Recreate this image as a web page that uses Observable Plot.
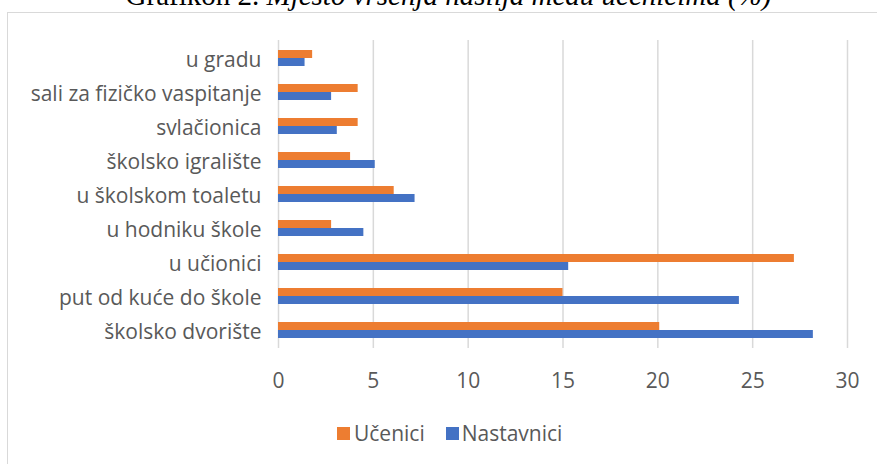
<!DOCTYPE html>
<html><head><meta charset="utf-8">
<script src="https://cdn.jsdelivr.net/npm/d3@7"></script>
<script src="https://cdn.jsdelivr.net/npm/@observablehq/plot@0.6"></script>
<style>
body{margin:0;width:877px;height:464px;overflow:hidden;background:#fff;position:relative;}
#title{position:absolute;top:-19px;left:10px;width:877px;text-align:center;font-size:29px;line-height:1;font-family:"Liberation Serif",serif;color:#000;white-space:nowrap;}
#box{position:absolute;left:7px;top:12px;width:900px;height:500px;border:1px solid #d9d9d9;box-sizing:border-box;}
#chart{position:absolute;left:0;top:0;}
#legend{position:absolute;top:419px;left:337px;display:flex;align-items:center;font-size:21px;font-family:"Open Sans",sans-serif;color:#595959;white-space:nowrap;}
.sw{display:inline-block;width:13px;height:13px;margin-right:4px;}
</style></head><body>
<div id="title">Grafikon 2. <i>Mjesto vršenja nasilja među učenicima (%)</i></div>
<div id="box"></div>
<div id="chart"></div>
<div id="legend"><span class="sw" style="background:#ed7d31"></span><span>Učenici</span><span class="sw" style="background:#4472c4;margin-left:21px;margin-right:3px"></span><span>Nastavnici</span></div>
<script>
const categories = ["u gradu","sali za fizičko vaspitanje","svlačionica","školsko igralište","u školskom toaletu","u hodniku škole","u učionici","put od kuće do škole","školsko dvorište"];
const ucenici = [1.8, 4.2, 4.2, 3.8, 6.1, 2.8, 27.2, 15.0, 20.1];
const nastavnici = [1.4, 2.8, 3.1, 5.1, 7.2, 4.5, 15.3, 24.3, 28.2];
const xTicks = [0,5,10,15,20,25,30];
const rowsU = categories.map((c,i)=>({cat:c, value:ucenici[i]}));
const rowsN = categories.map((c,i)=>({cat:c, value:nastavnici[i]}));
const chart = Plot.plot({
  width: 877, height: 400,
  marginLeft: 278, marginRight: 30, marginTop: 40, marginBottom: 52,
  style: {fontFamily: "'Open Sans', sans-serif", background: "transparent"},
  x: {domain: [0,30], ticks: xTicks, label: null},
  y: {domain: categories, paddingInner: 0.533, paddingOuter: 0.26, label: null},
  marks: [
    Plot.gridX(xTicks, {stroke: "#d9d9d9", strokeOpacity: 1, strokeWidth: 1.5}),
    Plot.barX(rowsU, {x: "value", y: "cat", fill: "#ed7d31", insetBottom: 8}),
    Plot.barX(rowsN, {x: "value", y: "cat", fill: "#4472c4", insetTop: 8}),
    Plot.axisX(xTicks, {tickSize: 0, tickPadding: 25, fontSize: 21, color: "#595959", label: null}),
    Plot.axisY({tickSize: 0, tickPadding: 17, dy: 2, fontSize: 21, color: "#595959", label: null})
  ]
});
document.getElementById("chart").appendChild(chart);
</script>
</body></html>
